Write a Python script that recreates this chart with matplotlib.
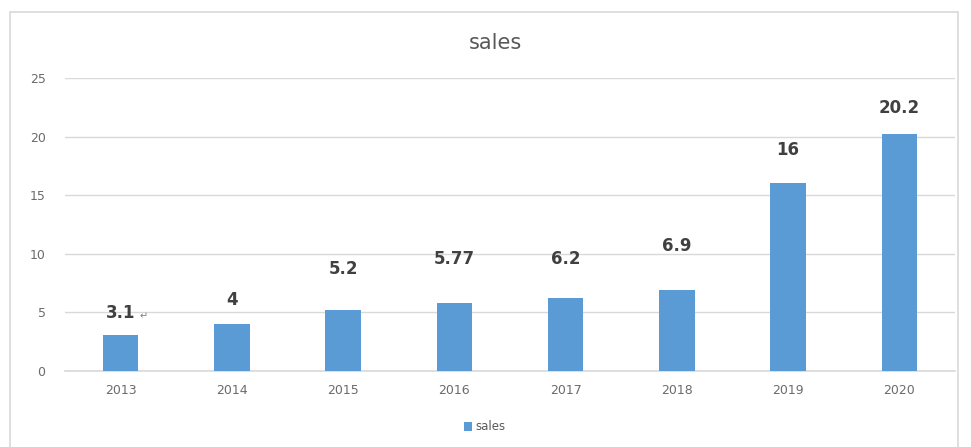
import matplotlib.pyplot as plt
from matplotlib.patches import Rectangle

years = ["2013", "2014", "2015", "2016", "2017", "2018", "2019", "2020"]
sales = [3.1, 4, 5.2, 5.77, 6.2, 6.9, 16, 20.2]
label_text = ["3.1", "4", "5.2", "5.77", "6.2", "6.9", "16", "20.2"]
# labels in the original were dragged above the bars by hand
label_gap = [1.05, 1.25, 2.75, 3.0, 2.6, 3.0, 2.05, 1.5]

BAR = "#5B9BD5"
GRID = "#D9D9D9"
TXT = "#595959"

fig = plt.figure(figsize=(9.71, 4.47), dpi=100)
fig.patches.append(Rectangle((10 / 971, -0.01), 948 / 971, 1 - 12 / 447 + 0.01,
                             transform=fig.transFigure, fill=False,
                             edgecolor="#D9D9D9", linewidth=1.2))
ax = fig.add_axes([65 / 971, 1 - 371 / 447, 890 / 971, 293 / 447])

x = range(len(years))
bars = ax.bar(x, sales, width=0.32, color=BAR, label="sales", zorder=2)
for xi, v, t, g in zip(x, sales, label_text, label_gap):
    ax.text(xi, v + g, t, ha="center", va="bottom", fontsize=12,
            color="#404040", fontweight="bold")
ax.text(0.17, sales[0] + label_gap[0] + 0.05, "↵", ha="left", va="bottom",
        fontsize=7, color="#808080")

ax.set_xlim(-0.5, 7.5)
ax.set_ylim(0, 25)
ax.set_yticks([0, 5, 10, 15, 20, 25])
ax.set_xticks(list(x))
ax.set_xticklabels(years)
ax.tick_params(length=0, labelsize=9, labelcolor="#6b6b6b", pad=9)
ax.tick_params(axis="y", pad=14)
ax.grid(axis="y", color=GRID, linewidth=1, zorder=0)
ax.axhline(0, color=GRID, linewidth=1.2, zorder=1, clip_on=False)
for s in ax.spines.values():
    s.set_visible(False)

fig.text(495 / 971, 1 - 43 / 447, "sales", ha="center", va="center",
         fontsize=15, color=TXT)
fig.legend(handles=[bars], labels=["sales"], loc="center",
           bbox_to_anchor=(485 / 971, 1 - 427 / 447), frameon=False,
           fontsize=8.5, labelcolor=TXT, handlelength=0.7, handleheight=0.7,
           handletextpad=0.3)

fig.savefig("out.png", dpi=100)
